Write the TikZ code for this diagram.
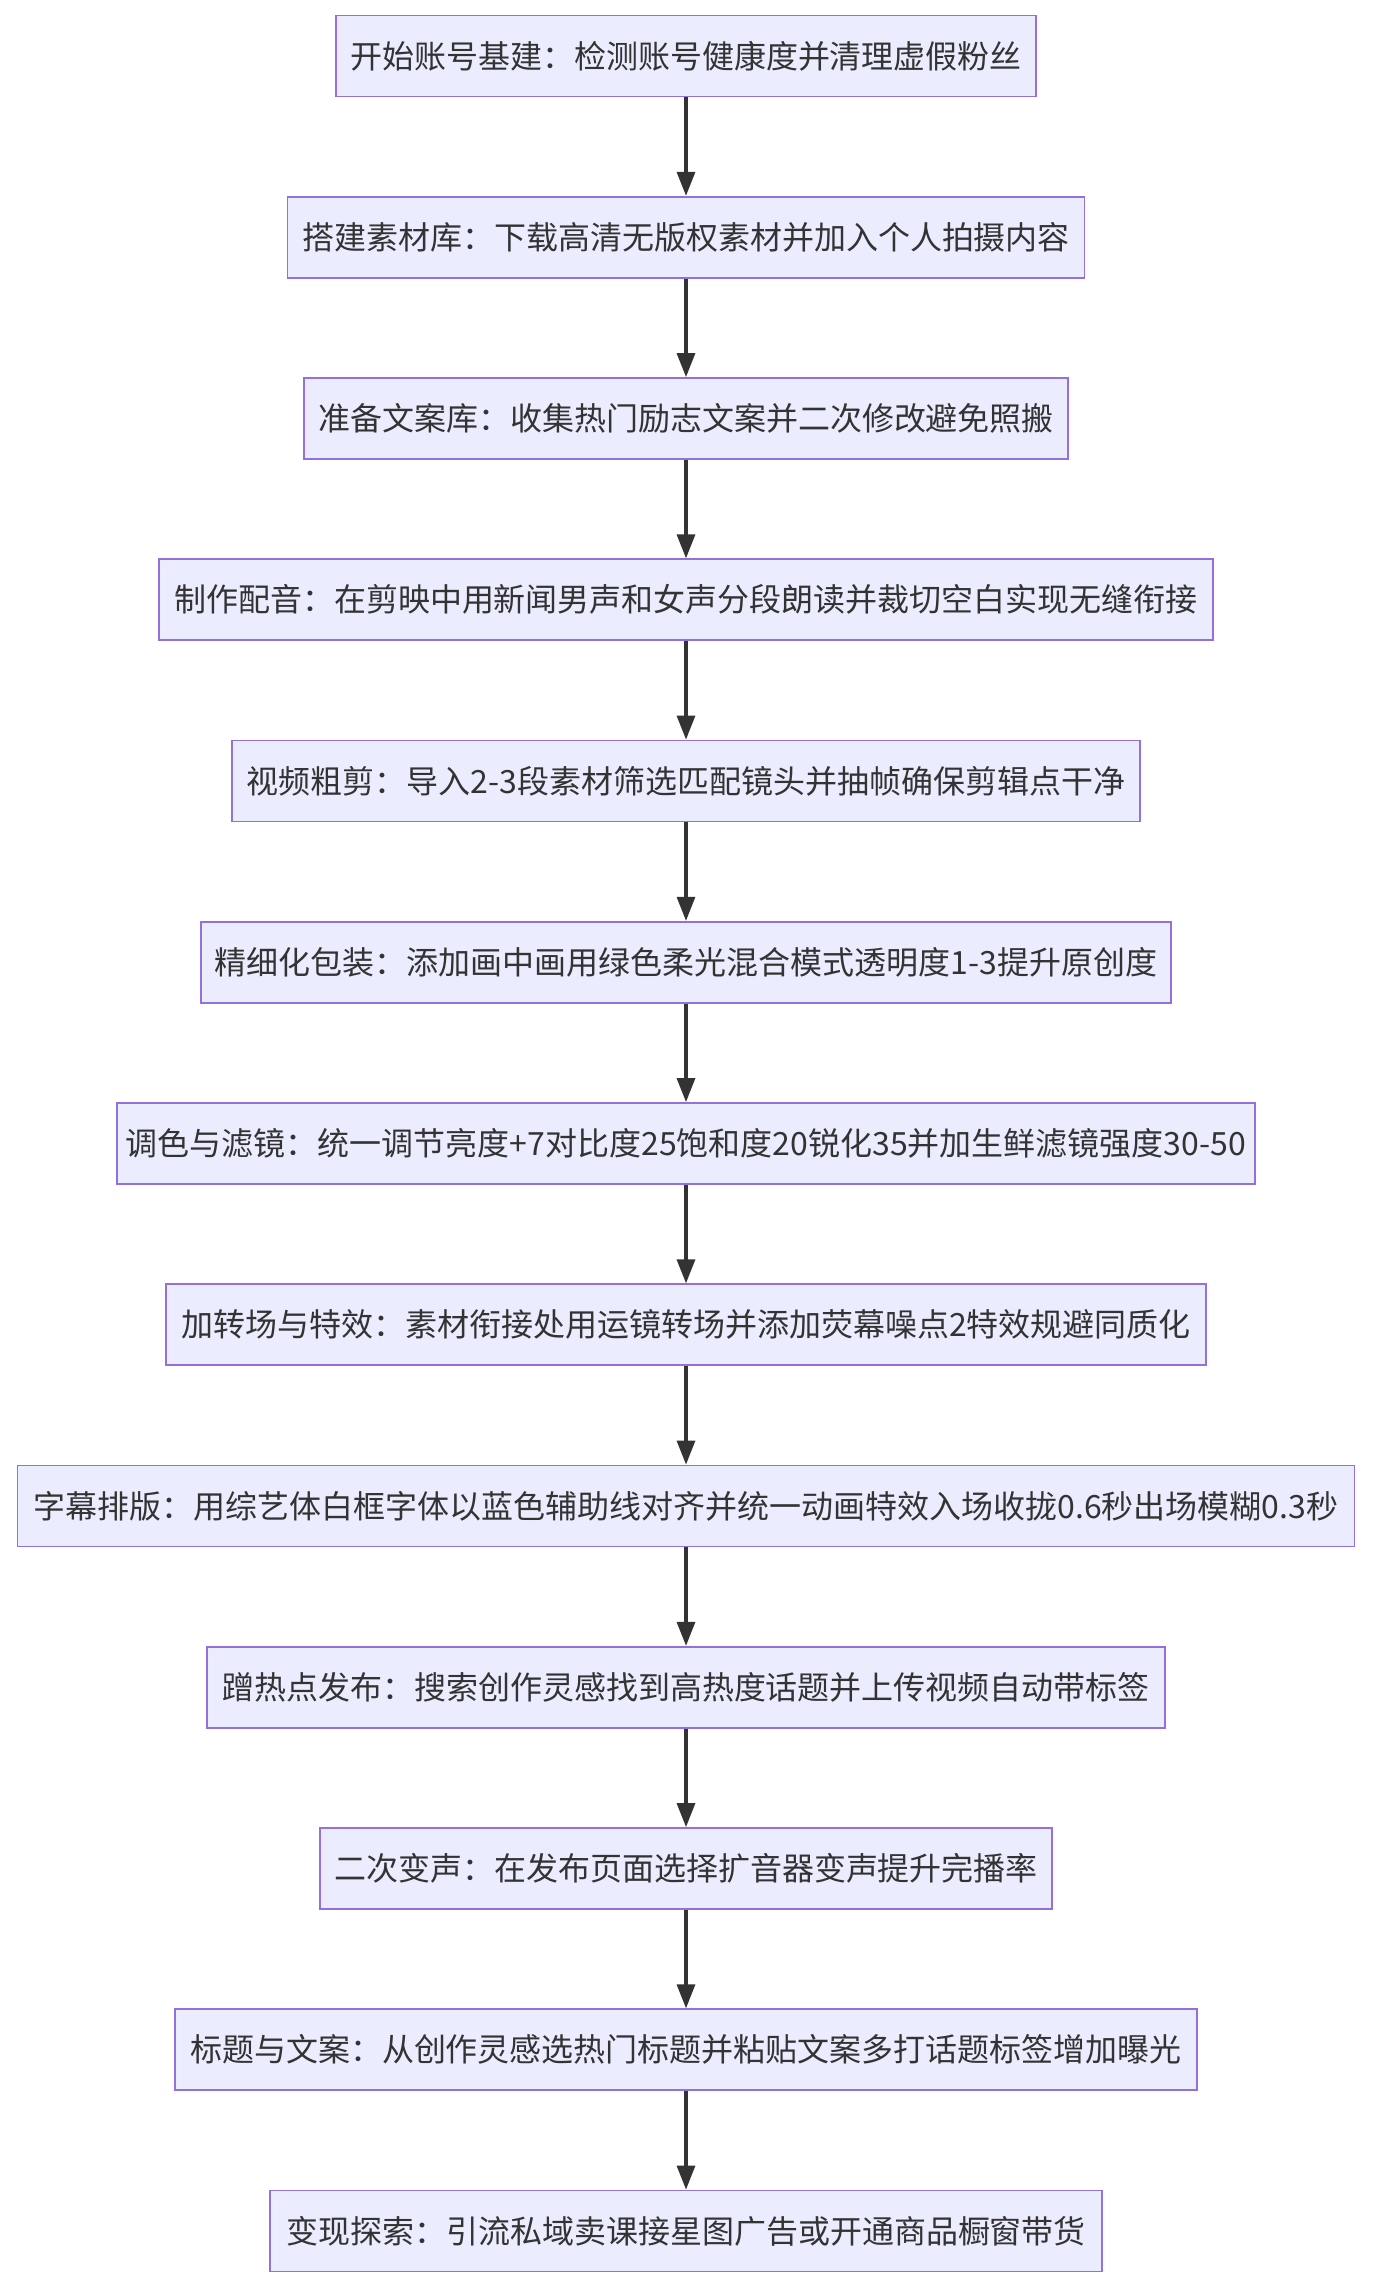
\documentclass[tikz,border=0pt]{standalone}
\usepackage{fontspec}
\setmainfont{Noto Sans CJK SC}
\usetikzlibrary{arrows.meta}
\definecolor{boxfill}{HTML}{ECECFF}
\definecolor{boxborder}{HTML}{9370DB}
\definecolor{txt}{HTML}{333333}
\definecolor{arrowc}{HTML}{333333}
\tikzset{
  box/.style={draw=boxborder, fill=boxfill, line width=0.9pt, minimum height=40.5pt,
    inner sep=0pt, text=txt, font=\fontsize{16}{19}\selectfont},
  arr/.style={draw=arrowc, line width=1.6pt, -{Triangle[length=12pt,width=9pt]}}
}
\begin{document}
\begin{tikzpicture}[x=0.5pt,y=-0.5pt]
\useasboundingbox (0,0) rectangle (1372,2288);
\node[box, minimum width=350pt] (n1) at (686,56) {开始账号基建：检测账号健康度并清理虚假粉丝};
\node[box, minimum width=398.5pt] (n2) at (686,237.25) {搭建素材库：下载高清无版权素材并加入个人拍摄内容};
\node[box, minimum width=382pt] (n3) at (686,418.5) {准备文案库：收集热门励志文案并二次修改避免照搬};
\node[box, minimum width=527pt] (n4) at (686,599.75) {制作配音：在剪映中用新闻男声和女声分段朗读并裁切空白实现无缝衔接};
\node[box, minimum width=454pt] (n5) at (686,781) {视频粗剪：导入2-3段素材筛选匹配镜头并抽帧确保剪辑点干净};
\node[box, minimum width=485pt] (n6) at (686,962.25) {精细化包装：添加画中画用绿色柔光混合模式透明度1-3提升原创度};
\node[box, minimum width=569pt] (n7) at (686,1143.5) {调色与滤镜：统一调节亮度+7对比度25饱和度20锐化35并加生鲜滤镜强度30-50};
\node[box, minimum width=520pt] (n8) at (686,1324.75) {加转场与特效：素材衔接处用运镜转场并添加荧幕噪点2特效规避同质化};
\node[box, minimum width=668.5pt] (n9) at (686,1506) {字幕排版：用综艺体白框字体以蓝色辅助线对齐并统一动画特效入场收拢0.6秒出场模糊0.3秒};
\node[box, minimum width=479pt] (n10) at (686,1687.25) {蹭热点发布：搜索创作灵感找到高热度话题并上传视频自动带标签};
\node[box, minimum width=366pt] (n11) at (686,1868.5) {二次变声：在发布页面选择扩音器变声提升完播率};
\node[box, minimum width=511pt] (n12) at (686,2049.75) {标题与文案：从创作灵感选热门标题并粘贴文案多打话题标签增加曝光};
\node[box, minimum width=416pt] (n13) at (686,2231) {变现探索：引流私域卖课接星图广告或开通商品橱窗带货};
\foreach \a/\b in {n1/n2,n2/n3,n3/n4,n4/n5,n5/n6,n6/n7,n7/n8,n8/n9,n9/n10,n10/n11,n11/n12,n12/n13}
  \draw[arr] (\a) -- (\b);
\end{tikzpicture}
\end{document}
